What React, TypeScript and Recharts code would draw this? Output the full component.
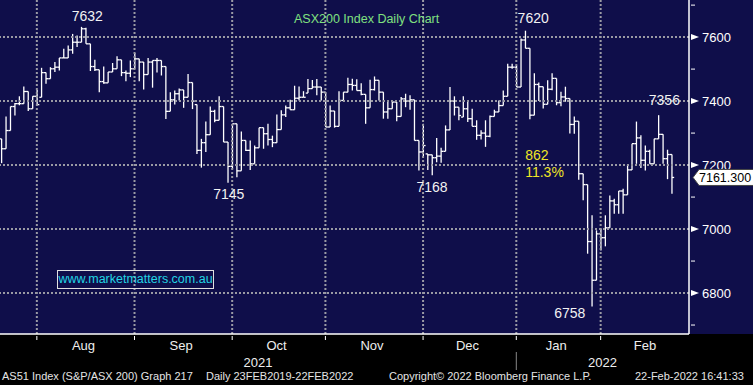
import React from "react";
import { ComposedChart, Bar, XAxis, YAxis, ReferenceLine, ReferenceDot } from "recharts";

// daily OHLC, one entry per trading day (late Jul 2021 -> 22 Feb 2022)
const opens = [
  7282, 7251, 7308, 7383, 7392, 7392, 7430, 7376, 7415, 7412,
  7489, 7470, 7501, 7506, 7535, 7535, 7560, 7584, 7584, 7626,
  7579, 7508, 7498, 7461, 7457, 7491, 7501, 7529, 7489, 7487,
  7501, 7532, 7522, 7483, 7522, 7527, 7527, 7508, 7368, 7404,
  7423, 7435, 7412, 7458, 7389, 7246, 7270, 7295, 7368, 7340,
  7383, 7272, 7196, 7329, 7182, 7277, 7246, 7204, 7254, 7317,
  7298, 7280, 7270, 7311, 7357, 7379, 7373, 7409, 7412, 7425,
  7439, 7444, 7444, 7428, 7319, 7369, 7321, 7402, 7428, 7452,
  7449, 7433, 7421, 7379, 7436, 7465, 7428, 7366, 7376, 7397,
  7352, 7407, 7400, 7404, 7277, 7241, 7235, 7232, 7223, 7228,
  7243, 7310, 7400, 7381, 7350, 7376, 7345, 7321, 7293, 7300,
  7290, 7352, 7366, 7386, 7415, 7506, 7506, 7444, 7591, 7565,
  7356, 7452, 7445, 7390, 7437, 7471, 7395, 7413, 7408, 7327,
  7337, 7173, 7139, 6961, 6840, 6985, 6973, 7004, 7088, 7076,
  7119, 7107, 7185, 7267, 7285, 7215, 7243, 7204, 7282, 7296,
  7220, 7233,
];
const highs = [
  7282, 7352, 7383, 7394, 7415, 7446, 7430, 7415, 7435, 7504,
  7489, 7506, 7522, 7535, 7564, 7574, 7610, 7605, 7632, 7629,
  7579, 7529, 7498, 7508, 7491, 7519, 7540, 7529, 7496, 7527,
  7550, 7532, 7522, 7535, 7527, 7535, 7527, 7508, 7428, 7433,
  7439, 7435, 7485, 7458, 7389, 7282, 7336, 7383, 7373, 7415,
  7383, 7272, 7329, 7329, 7305, 7277, 7277, 7261, 7317, 7317,
  7329, 7292, 7358, 7371, 7386, 7404, 7448, 7446, 7431, 7469,
  7466, 7469, 7444, 7428, 7386, 7369, 7431, 7428, 7473, 7470,
  7468, 7456, 7421, 7467, 7477, 7465, 7428, 7397, 7400, 7397,
  7413, 7423, 7418, 7404, 7277, 7329, 7235, 7232, 7285, 7254,
  7324, 7444, 7415, 7381, 7415, 7400, 7376, 7340, 7309, 7340,
  7355, 7373, 7402, 7433, 7517, 7517, 7511, 7596, 7620, 7565,
  7487, 7458, 7445, 7465, 7487, 7471, 7429, 7445, 7408, 7352,
  7337, 7173, 7139, 7043, 6996, 7001, 7043, 7105, 7095, 7119,
  7126, 7201, 7267, 7336, 7293, 7261, 7248, 7282, 7356, 7296,
  7248, 7233,
];
const lows = [
  7206, 7251, 7308, 7355, 7387, 7392, 7369, 7376, 7387, 7412,
  7454, 7470, 7491, 7496, 7535, 7535, 7548, 7569, 7584, 7579,
  7494, 7494, 7428, 7454, 7457, 7491, 7501, 7478, 7462, 7475,
  7501, 7462, 7436, 7483, 7442, 7489, 7480, 7344, 7368, 7389,
  7402, 7379, 7412, 7375, 7235, 7192, 7241, 7295, 7334, 7340,
  7272, 7145, 7187, 7162, 7182, 7244, 7185, 7204, 7254, 7251,
  7261, 7256, 7270, 7311, 7350, 7373, 7373, 7402, 7412, 7425,
  7439, 7418, 7402, 7319, 7319, 7317, 7321, 7402, 7428, 7433,
  7433, 7418, 7329, 7379, 7433, 7402, 7345, 7345, 7376, 7337,
  7352, 7381, 7373, 7277, 7183, 7225, 7185, 7168, 7209, 7207,
  7243, 7310, 7355, 7340, 7350, 7335, 7321, 7279, 7280, 7257,
  7287, 7352, 7366, 7386, 7415, 7501, 7444, 7444, 7565, 7343,
  7356, 7400, 7377, 7390, 7434, 7387, 7384, 7398, 7299, 7298,
  7154, 7090, 6923, 6758, 6840, 6933, 6946, 7004, 7048, 7048,
  7048, 7107, 7185, 7204, 7191, 7183, 7204, 7204, 7282, 7204,
  7156, 7110,
];
const closes = [
  7251, 7308, 7383, 7392, 7392, 7430, 7376, 7415, 7389, 7489,
  7470, 7501, 7506, 7535, 7535, 7560, 7584, 7584, 7626, 7579,
  7508, 7498, 7461, 7457, 7491, 7501, 7529, 7489, 7487, 7501,
  7532, 7522, 7483, 7522, 7527, 7527, 7508, 7368, 7404, 7423,
  7435, 7412, 7458, 7400, 7246, 7270, 7295, 7368, 7340, 7383,
  7272, 7196, 7329, 7182, 7277, 7246, 7204, 7254, 7317, 7298,
  7280, 7270, 7311, 7357, 7379, 7373, 7409, 7412, 7412, 7439,
  7444, 7444, 7428, 7319, 7369, 7321, 7402, 7428, 7452, 7449,
  7433, 7421, 7379, 7436, 7465, 7428, 7366, 7376, 7397, 7352,
  7407, 7400, 7404, 7277, 7241, 7261, 7232, 7223, 7228, 7243,
  7310, 7400, 7381, 7355, 7376, 7345, 7321, 7293, 7300, 7290,
  7352, 7366, 7386, 7415, 7506, 7506, 7444, 7591, 7565, 7356,
  7452, 7445, 7390, 7437, 7471, 7395, 7413, 7408, 7327, 7337,
  7173, 7139, 6961, 6840, 6985, 6973, 7004, 7088, 7076, 7119,
  7107, 7185, 7267, 7285, 7215, 7243, 7204, 7282, 7296, 7220,
  7233, 7161.3,
];

// x axis: bar index where each month starts, and where labels sit
const monthStarts = [8, 30, 52, 73, 95, 116, 135];
const monthNames = ["Aug", "Sep", "Oct", "Nov", "Dec", "Jan", "Feb"];
const monthLabelAt = [18.5, 40.5, 62, 83.5, 105, 125, 145];
const yearNames = ["2021", "2022"];
const yearLabelAt = [57.8, 135.4];
const yearBreak = 116;

const priceMajor = [6800, 7000, 7200, 7400, 7600];
const priceMinor = [6700, 6900, 7100, 7300, 7500, 7700];

// labelled turning points: bar index, and whether the label is for the high or the low
const turningPoints = [
  { i: 18, kind: "high" },
  { i: 51, kind: "low" },
  { i: 97, kind: "low" },
  { i: 118, kind: "high" },
  { i: 133, kind: "low" },
  { i: 148, kind: "high" },
];
const labelOffsets = [
  [6, -6], [1, 16], [0, 17], [8, -8], [-22, 12], [6, -10],
];
const dropFrom = 118;
const dropTo = 133;

const lastClose = closes[closes.length - 1];
const data = closes.map((c, i) => ({
  i,
  open: opens[i],
  high: highs[i],
  low: lows[i],
  close: c,
  hl: [lows[i], highs[i]],
}));

const NAVY = "#0f0e4a";
const GRID = "#9a9aa4";
const FONT = "'Liberation Sans', Arial, sans-serif";

const OhlcShape = (props: any) => {
  const { x, y, width, height, payload } = props;
  if (x == null || y == null) return null;
  const cx = x + width / 2;
  const top = Math.min(y, y + height);
  const bot = Math.max(y, y + height);
  const span = payload.high - payload.low;
  const toY = (v: number) => (span === 0 ? top : top + ((payload.high - v) / span) * (bot - top));
  const t = 2.2;
  return (
    <g stroke="#fff" strokeWidth={1.3}>
      <line x1={cx} x2={cx} y1={top} y2={bot} />
      <line x1={cx - t} x2={cx} y1={toY(payload.open)} y2={toY(payload.open)} />
      <line x1={cx} x2={cx + t} y1={toY(payload.close)} y2={toY(payload.close)} />
    </g>
  );
};

const PriceTick = (props: any) => {
  const { x, y, payload } = props;
  const v = payload.value;
  if (v === lastClose) {
    return (
      <g>
        <path d={`M${x + 2},${y} L${x + 8},${y - 8} L${x + 66},${y - 8} L${x + 66},${y + 8} L${x + 8},${y + 8} Z`} fill="#fff" stroke="#444" />
        <text x={x + 8} y={y + 4.5} fill="#000" fontSize={12.5} fontFamily={FONT}>{v.toFixed(3)}</text>
      </g>
    );
  }
  if (priceMajor.includes(v)) {
    return (
      <g>
        <path d={`M${x},${y - 3} L${x + 8},${y} L${x},${y + 3} Z`} fill="#fff" />
        <text x={x + 11} y={y + 5} fill="#fff" fontSize={13} fontFamily={FONT}>{v}</text>
      </g>
    );
  }
  return <line x1={x} x2={x + 4} y1={y} y2={y} stroke="#fff" />;
};

const MonthTick = (props: any) => {
  const { x, y } = props;
  return <line x1={x} x2={x} y1={y} y2={y + 4} stroke="#fff" />;
};

const MonthLabel = (props: any) => {
  const { x, y, index } = props;
  return (
    <text x={x} y={y + 6} textAnchor="middle" fill="#eee" fontSize={13} fontFamily={FONT}>
      {monthNames[index]}
    </text>
  );
};

const YearLabel = (props: any) => {
  const { x, y, payload } = props;
  if (payload.value === yearBreak) {
    return <line x1={x} x2={x} y1={y - 8} y2={y + 10} stroke="#888" />;
  }
  const k = yearLabelAt.indexOf(payload.value);
  return (
    <text x={x} y={y + 7} textAnchor="middle" fill="#eee" fontSize={13} fontFamily={FONT}>
      {yearNames[k]}
    </text>
  );
};

export default function App() {
  const drop = highs[dropFrom] - lows[dropTo];
  const pct = ((drop / highs[dropFrom]) * 100).toFixed(1) + "%";
  const xDomain = [-0.3, 154.9];

  return (
    <div
      style={{
        position: "absolute",
        left: 0,
        top: 0,
        width: 753,
        height: 385,
        background: `linear-gradient(${NAVY} 0px, ${NAVY} 334px, #000 334px)`,
        fontFamily: FONT,
      }}
    >
      <ComposedChart width={753} height={385} data={data} margin={{ top: 0, right: 0, bottom: 0, left: 0 }}>
        <XAxis
          dataKey="i"
          type="number"
          domain={xDomain}
          allowDataOverflow
          ticks={monthStarts}
          interval={0}
          height={8}
          tickSize={0}
          tickLine={false}
          tick={<MonthTick />}
          axisLine={{ stroke: "#fff", strokeWidth: 1.5 }}
        />
        <XAxis
          xAxisId="m"
          dataKey="i"
          type="number"
          domain={xDomain}
          allowDataOverflow
          ticks={monthLabelAt}
          interval={0}
          height={16}
          tickSize={0}
          tickLine={false}
          axisLine={false}
          tick={<MonthLabel />}
        />
        <XAxis
          xAxisId="y"
          dataKey="i"
          type="number"
          domain={xDomain}
          allowDataOverflow
          ticks={[...yearLabelAt, yearBreak]}
          interval={0}
          height={27}
          tickSize={0}
          tickLine={false}
          axisLine={false}
          tick={<YearLabel />}
        />
        <YAxis
          orientation="right"
          domain={[6672, 7716]}
          allowDataOverflow
          ticks={[...priceMinor, ...priceMajor, lastClose]}
          interval={0}
          width={64}
          tickSize={0}
          tickLine={false}
          tick={<PriceTick />}
          axisLine={{ stroke: "#fff", strokeWidth: 1.5 }}
        />
        {priceMajor.map((p) => (
          <ReferenceLine key={"h" + p} y={p} stroke={GRID} strokeWidth={2} strokeDasharray="2 2" />
        ))}
        {monthStarts.map((m) => (
          <ReferenceLine key={"v" + m} x={m} stroke={GRID} strokeWidth={2} strokeDasharray="2 2" />
        ))}
        <Bar dataKey="hl" barSize={3} isAnimationActive={false} shape={(p: any) => <OhlcShape {...p} />} />
        {turningPoints.map((tp, k) => {
          const v = tp.kind === "high" ? highs[tp.i] : lows[tp.i];
          const [dx, dy] = labelOffsets[k];
          return (
            <ReferenceDot
              key={"tp" + k}
              x={tp.i}
              y={v}
              r={0}
              shape={(p: any) => (
                <text x={p.cx + dx} y={p.cy + dy} textAnchor="middle" fill="#f2f2f2" fontSize={14} fontFamily={FONT}>
                  {v}
                </text>
              )}
            />
          );
        })}
        <ReferenceDot
          x={dropFrom}
          y={(highs[dropFrom] + lows[dropTo]) / 2}
          r={0}
          shape={(p: any) => (
            <g fill="#f0e426" fontSize={14} fontFamily={FONT}>
              <text x={p.cx} y={p.cy - 9}>{drop}</text>
              <text x={p.cx} y={p.cy + 8}>{pct}</text>
            </g>
          )}
        />
      </ComposedChart>

      <div style={{ position: "absolute", left: 294, top: 12, fontSize: 12.5, color: "#80e080", whiteSpace: "nowrap" }}>
        ASX200 Index Daily Chart
      </div>
      <div
        style={{
          position: "absolute",
          left: 57,
          top: 270,
          width: 155,
          height: 17,
          border: "1px solid #e0e0e0",
          color: "#22d4e4",
          fontSize: 12.5,
          lineHeight: "17px",
          textAlign: "center",
          whiteSpace: "nowrap",
        }}
      >
        www.marketmatters.com.au
      </div>
      <div style={{ position: "absolute", left: 2, top: 370, fontSize: 11, color: "#e4e4e4", whiteSpace: "nowrap" }}>
        AS51 Index (S&amp;P/ASX 200) Graph 217
      </div>
      <div style={{ position: "absolute", left: 206, top: 370, fontSize: 11, color: "#e4e4e4", whiteSpace: "nowrap" }}>
        Daily 23FEB2019-22FEB2022
      </div>
      <div style={{ position: "absolute", left: 389, top: 370, fontSize: 11, color: "#e4e4e4", whiteSpace: "nowrap" }}>
        Copyright© 2022 Bloomberg Finance L.P.
      </div>
      <div style={{ position: "absolute", left: 635, top: 370, fontSize: 11, color: "#e4e4e4", whiteSpace: "nowrap" }}>
        22-Feb-2022 16:41:33
      </div>
    </div>
  );
}
